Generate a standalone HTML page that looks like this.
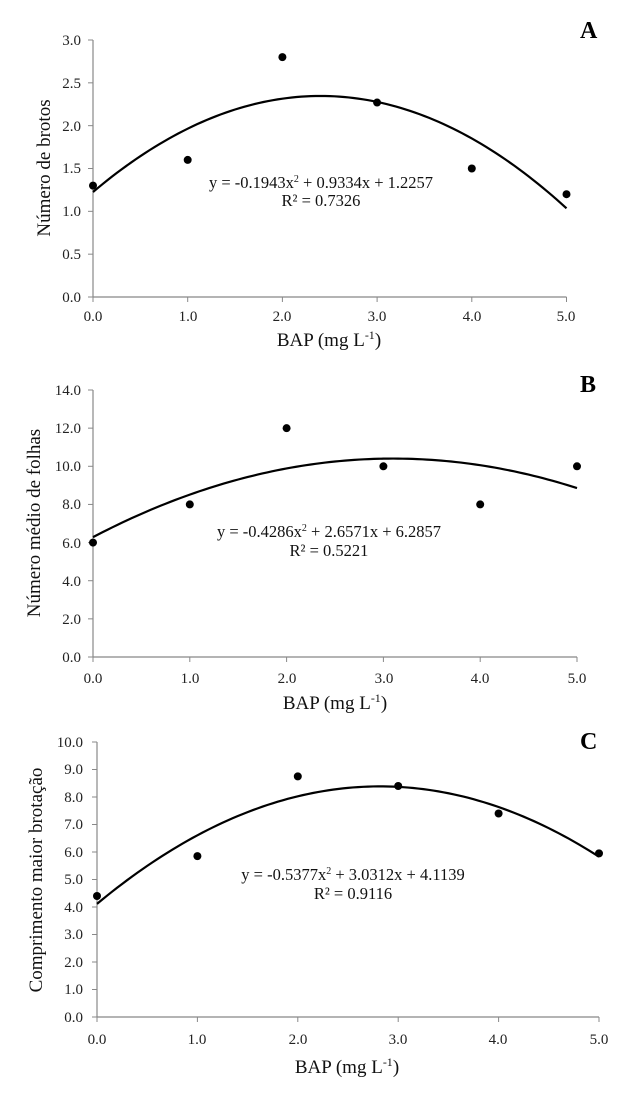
<!DOCTYPE html>
<html><head><meta charset="utf-8"><style>
html,body{margin:0;padding:0;background:#fff}
svg{display:block;font-family:"Liberation Serif",serif}
.t{font-size:15px;fill:#222}
.ax{font-size:19px;fill:#111}
.eq{font-size:16.5px;fill:#111}
.lab{font-size:24px;font-weight:bold;fill:#000}
</style></head><body>
<svg id="s" width="627" height="1099" viewBox="0 0 627 1099" xmlns="http://www.w3.org/2000/svg">
<rect width="627" height="1099" fill="#fff"/>
<g id="g"></g>
<!-- Panel A -->
<text class="lab" x="580" y="38">A</text>
<g class="t" text-anchor="end">
<text x="81" y="302">0.0</text><text x="81" y="259">0.5</text><text x="81" y="216">1.0</text><text x="81" y="173">1.5</text><text x="81" y="131">2.0</text><text x="81" y="88">2.5</text><text x="81" y="45">3.0</text>
</g>
<g class="t" text-anchor="middle">
<text x="93" y="321">0.0</text><text x="188" y="321">1.0</text><text x="282" y="321">2.0</text><text x="377" y="321">3.0</text><text x="472" y="321">4.0</text><text x="566" y="321">5.0</text>
</g>
<text class="ax" x="329" y="346" text-anchor="middle">BAP (mg L<tspan dy="-7" font-size="12">-1</tspan><tspan dy="7">)</tspan></text>
<text class="ax" transform="translate(50,168) rotate(-90)" text-anchor="middle">Número de brotos</text>
<text class="eq" x="321" y="188" text-anchor="middle">y = -0.1943x<tspan dy="-6" font-size="10">2</tspan><tspan dy="6"> + 0.9334x + 1.2257</tspan></text>
<text class="eq" x="321" y="206" text-anchor="middle">R² = 0.7326</text>
<!-- Panel B -->
<text class="lab" x="580" y="392">B</text>
<g class="t" text-anchor="end">
<text x="81" y="662">0.0</text><text x="81" y="624">2.0</text><text x="81" y="586">4.0</text><text x="81" y="548">6.0</text><text x="81" y="509">8.0</text><text x="81" y="471">10.0</text><text x="81" y="433">12.0</text><text x="81" y="395">14.0</text>
</g>
<g class="t" text-anchor="middle">
<text x="93" y="683">0.0</text><text x="190" y="683">1.0</text><text x="287" y="683">2.0</text><text x="384" y="683">3.0</text><text x="480" y="683">4.0</text><text x="577" y="683">5.0</text>
</g>
<text class="ax" x="335" y="709" text-anchor="middle">BAP (mg L<tspan dy="-7" font-size="12">-1</tspan><tspan dy="7">)</tspan></text>
<text class="ax" transform="translate(40,523) rotate(-90)" text-anchor="middle">Número médio de folhas</text>
<text class="eq" x="329" y="537" text-anchor="middle">y = -0.4286x<tspan dy="-6" font-size="10">2</tspan><tspan dy="6"> + 2.6571x + 6.2857</tspan></text>
<text class="eq" x="329" y="556" text-anchor="middle">R² = 0.5221</text>
<!-- Panel C -->
<text class="lab" x="580" y="749">C</text>
<g class="t" text-anchor="end">
<text x="83" y="1022">0.0</text><text x="83" y="994">1.0</text><text x="83" y="967">2.0</text><text x="83" y="939">3.0</text><text x="83" y="912">4.0</text><text x="83" y="884">5.0</text><text x="83" y="857">6.0</text><text x="83" y="829">7.0</text><text x="83" y="802">8.0</text><text x="83" y="774">9.0</text><text x="83" y="747">10.0</text>
</g>
<g class="t" text-anchor="middle">
<text x="97" y="1044">0.0</text><text x="197" y="1044">1.0</text><text x="298" y="1044">2.0</text><text x="398" y="1044">3.0</text><text x="498" y="1044">4.0</text><text x="599" y="1044">5.0</text>
</g>
<text class="ax" x="347" y="1073" text-anchor="middle">BAP (mg L<tspan dy="-7" font-size="12">-1</tspan><tspan dy="7">)</tspan></text>
<text class="ax" transform="translate(42,880) rotate(-90)" text-anchor="middle">Comprimento maior brotação</text>
<text class="eq" x="353" y="880" text-anchor="middle">y = -0.5377x<tspan dy="-6" font-size="10">2</tspan><tspan dy="6"> + 3.0312x + 4.1139</tspan></text>
<text class="eq" x="353" y="899" text-anchor="middle">R² = 0.9116</text>
</svg>
<script>
var NS="http://www.w3.org/2000/svg",g=document.getElementById("g");
function el(t,a){var e=document.createElementNS(NS,t);for(var k in a)e.setAttribute(k,a[k]);g.appendChild(e);return e;}
var P=[
 {x0:93,x5:566.5,y0:297,yt:40,ymax:3,step:0.5,c:[-0.1943,0.9334,1.2257],d:[1.3,1.6,2.8,2.27,1.5,1.2]},
 {x0:93,x5:577,y0:657,yt:390,ymax:14,step:2,c:[-0.4286,2.6571,6.2857],d:[6,8,12,10,8,10]},
 {x0:97,x5:599,y0:1017,yt:742,ymax:10,step:1,c:[-0.5377,3.0312,4.1139],d:[4.4,5.85,8.75,8.4,7.4,5.95]}
];
P.forEach(function(p){
 var X=function(v){return p.x0+(p.x5-p.x0)*v/5},Y=function(v){return p.y0-(p.y0-p.yt)*v/p.ymax};
 el("line",{x1:p.x0,y1:p.yt,x2:p.x0,y2:p.y0,stroke:"#888","stroke-width":1.2});
 el("line",{x1:p.x0,y1:p.y0,x2:p.x5,y2:p.y0,stroke:"#888","stroke-width":1.2});
 for(var v=0;v<=p.ymax+1e-9;v+=p.step)el("line",{x1:p.x0-5,y1:Y(v),x2:p.x0,y2:Y(v),stroke:"#888"});
 for(var i=0;i<=5;i++)el("line",{x1:X(i),y1:p.y0,x2:X(i),y2:p.y0+5,stroke:"#888"});
 var s="";for(var i=0;i<=100;i++){var x=i*0.05,y=p.c[0]*x*x+p.c[1]*x+p.c[2];s+=(i?"L":"M")+X(x).toFixed(2)+" "+Y(y).toFixed(2);}
 el("path",{d:s,fill:"none",stroke:"#000","stroke-width":2.2});
 p.d.forEach(function(v,i){el("circle",{cx:X(i),cy:Y(v),r:4,fill:"#000"});});
});
</script>
</body></html>
